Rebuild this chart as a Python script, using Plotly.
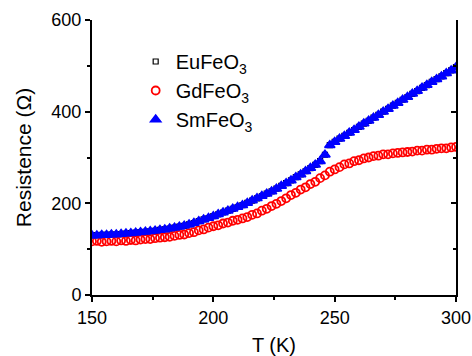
import plotly.graph_objects as go

temperature = list(range(150, 301, 2))

gd_values = [117, 118, 116, 117, 118, 117, 119, 118, 120, 119, 121, 122, 122, 124, 125, 126,
             127, 129, 131, 132, 135, 137, 141, 143, 147, 150, 152, 156, 158, 162, 164, 167,
             170, 175, 178, 184, 188, 194, 199, 205, 211, 218, 223, 230, 235, 242, 247, 255,
             261, 269, 274, 279, 285, 287, 292, 294, 298, 300, 303, 304, 307, 307, 309, 310,
             311, 312, 313, 315, 315, 317, 317, 319, 320, 320, 322, 323]

sm_values = [130, 130, 131, 131, 132, 132, 133, 134, 135, 136, 137, 138, 139, 140, 142, 143,
             145, 147, 149, 151, 154, 157, 161, 165, 168, 172, 176, 180, 184, 188, 192, 196,
             201, 206, 211, 216, 221, 226, 232, 238, 244, 250, 257, 263, 270, 277, 284, 292,
             306, 327, 334, 341, 347, 354, 360, 367, 374, 380, 387, 393, 400, 406, 413, 419,
             426, 432, 439, 445, 452, 458, 465, 471, 477, 484, 490, 497]

eu_values = [130, 130, 131, 131, 132, 132, 133, 134, 135, 136, 137, 138, 139, 140, 142, 143,
             145, 147, 149, 151, 154, 157, 161, 165, 168, 172, 176, 180, 184, 188, 192, 196,
             201, 206, 211, 216, 221, 226, 232, 238, 244, 250, 257, 263, 270, 277, 284, 292,
             306, 327, 334, 341, 347, 354, 360, 367, 374, 380, 387, 393, 400, 406, 413, 419,
             426, 432, 439, 445, 452, 458, 465, 471, 477, 484, 490, 497]

names = ["EuFeO<sub>3</sub>", "GdFeO<sub>3</sub>", "SmFeO<sub>3</sub>"]

x_ticks = [150, 200, 250, 300]
y_ticks = [0, 200, 400, 600]

FONT = "Liberation Sans, Arial, sans-serif"

fig = go.Figure()
fig.add_trace(go.Scatter(
    x=temperature, y=eu_values, mode="markers", name=names[0],
    marker=dict(symbol="square-open", size=5, color="black", line=dict(width=1.2, color="black")),
))
fig.add_trace(go.Scatter(
    x=temperature, y=gd_values, mode="markers", name=names[1],
    marker=dict(symbol="circle-open", size=8, color="#ff0000", line=dict(width=1.8, color="#ff0000")),
))
fig.add_trace(go.Scatter(
    x=temperature, y=sm_values, mode="markers", name=names[2],
    marker=dict(symbol="triangle-up", size=9, color="#0000ff", line=dict(width=1.5, color="#0000ff")),
))
# invisible trace to carry the right-side axis
fig.add_trace(go.Scatter(x=[150], y=[0], yaxis="y2", mode="markers",
                         marker=dict(opacity=0), showlegend=False, hoverinfo="skip"))

fig.update_layout(
    width=472, height=356,
    margin=dict(l=92, r=16, t=20, b=61),
    paper_bgcolor="white", plot_bgcolor="white",
    font=dict(family=FONT, size=18, color="black"),
    showlegend=True,
    legend=dict(x=0.12, y=0.92, xanchor="left", yanchor="top",
                bgcolor="rgba(0,0,0,0)", font=dict(size=20, family=FONT)),
    xaxis=dict(
        range=[150, 300], tickvals=x_ticks, ticktext=[str(v) for v in x_ticks],
        automargin=False,
        showgrid=False, zeroline=False, showline=True, linecolor="black", linewidth=2,
        ticks="outside", ticklen=5, tickwidth=2, tickcolor="black",
        minor=dict(ticks="outside", ticklen=3, tickwidth=2, tickcolor="black", dtick=25, tick0=150, showgrid=False),
        title=dict(text="T (K)", font=dict(size=20), standoff=14),
        tickfont=dict(size=18),
    ),
    yaxis=dict(
        range=[0, 600], tickvals=y_ticks, ticktext=[str(v) for v in y_ticks],
        automargin=False,
        showgrid=False, zeroline=False, showline=True, linecolor="black", linewidth=2,
        ticks="outside", ticklen=5, tickwidth=2, tickcolor="black",
        minor=dict(ticks="outside", ticklen=3, tickwidth=2, tickcolor="black", dtick=100, tick0=0, showgrid=False),
        title=dict(text="Resistence (Ω)", font=dict(size=21), standoff=14),
        tickfont=dict(size=18),
    ),
    yaxis2=dict(
        range=[0, 600], overlaying="y", side="right", tickvals=y_ticks,
        automargin=False,
        showticklabels=False, showgrid=False, zeroline=False,
        showline=True, linecolor="black", linewidth=2,
        ticks="inside", ticklen=5, tickwidth=2, tickcolor="black",
        minor=dict(ticks="inside", ticklen=3, tickwidth=2, tickcolor="black", dtick=100, tick0=0, showgrid=False),
    ),
)

fig.write_html(
    "out.html",
    config={"displayModeBar": False},
    post_script="document.body.style.margin='0';document.body.style.overflow='hidden';",
)
